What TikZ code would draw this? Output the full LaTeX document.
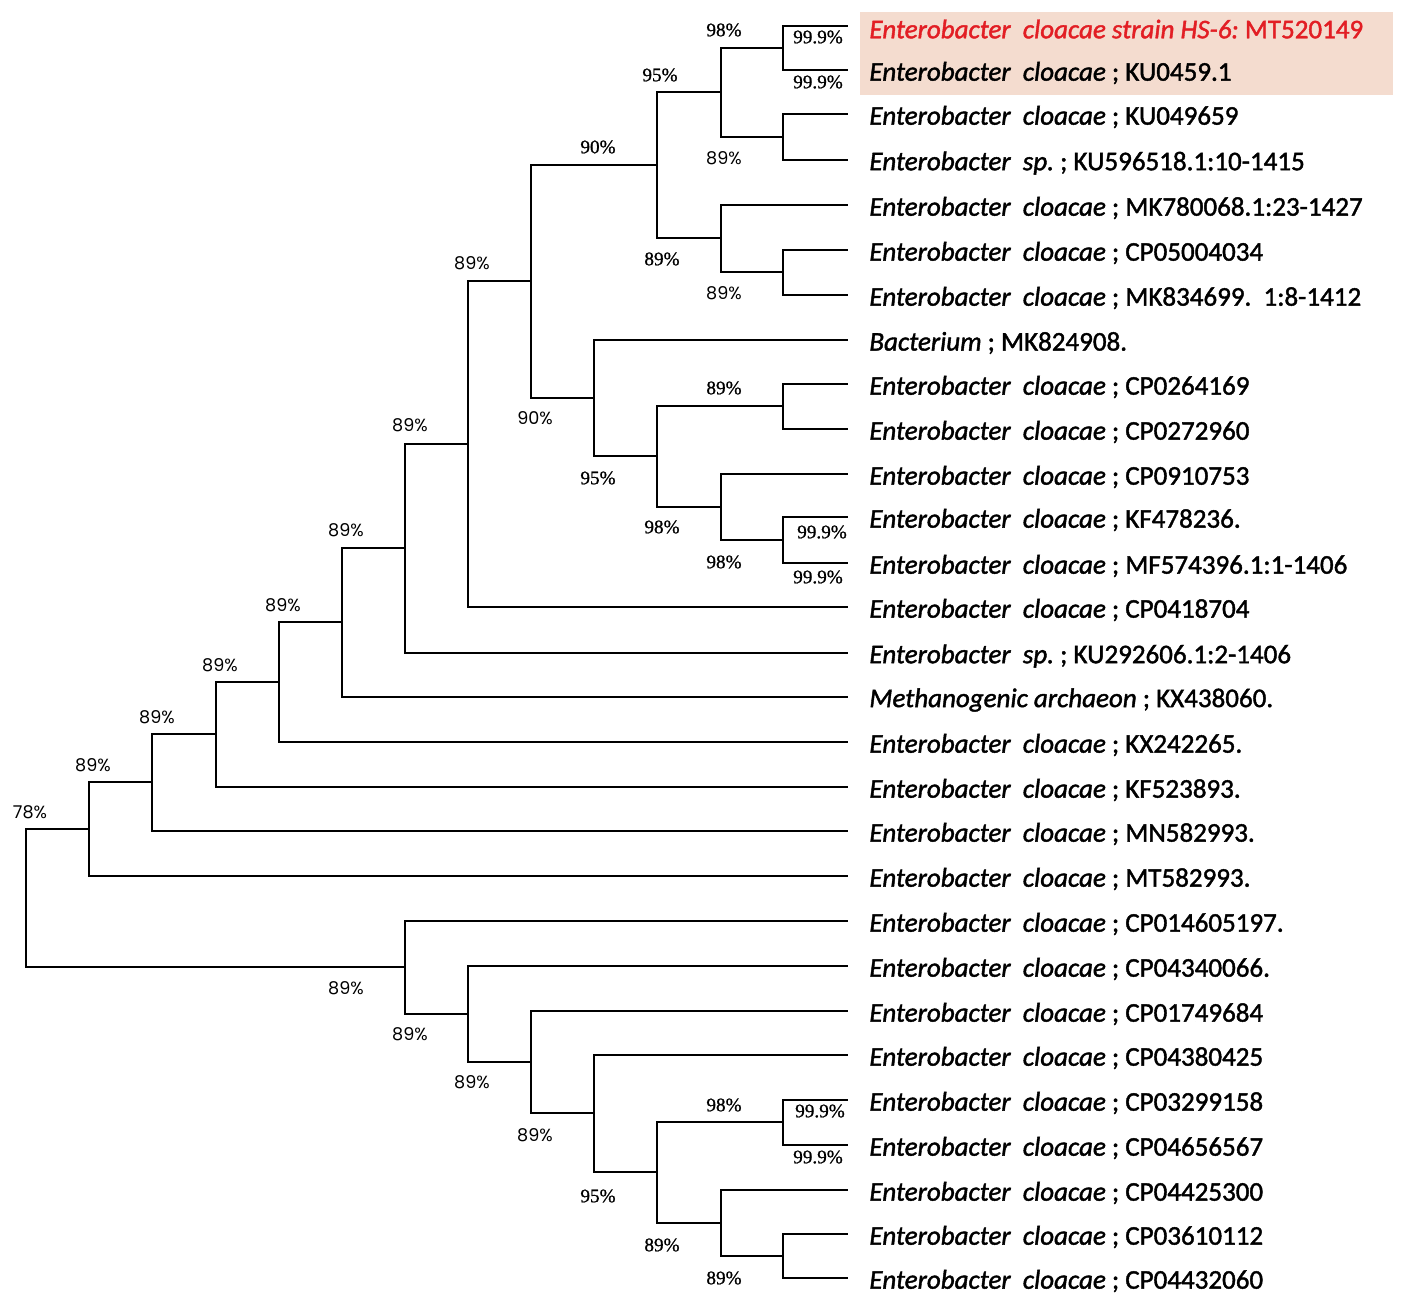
\documentclass[tikz,border=0pt]{standalone}
\usepackage{fontspec}
\usetikzlibrary{positioning}
\newfontfamily\leaffont[FakeBold=1.5]{Carlito}
\newfontfamily\bsserif[FakeBold=1]{Liberation Serif}
\newfontfamily\bssans{Poppins}
\definecolor{hlfill}{RGB}{244,220,207}
\definecolor{hlred}{RGB}{226,30,36}

\begin{document}
\begin{tikzpicture}[x=0.5pt, y=-0.5pt, line width=1.4pt,
			leaf/.style={anchor=west, inner sep=0pt, yshift=-1.5pt, font=\leaffont\fontsize{13.5}{15}\selectfont},
			bsr/.style={inner sep=0pt, font=\bsserif\fontsize{9.6}{11}\selectfont},
			bss/.style={inner sep=0pt, font=\bssans\fontsize{8.8}{10}\selectfont}]
			\useasboundingbox (0,0) rectangle (1418,1303);
			
			%highlighted strain
			\fill[hlfill] (860,12) rectangle (1393,95);
			
			%leaf tips
			\foreach \y [count=\i] in {26,70,114,160,205,250,295,340,384,429,474,517,563,607,653,
				697,742,787,831,876,921,966,1011,1055,1100,1145,1190,1234,1278}
				\coordinate (l\i) at (848,\y);
			
			%inner nodes (upper clade)
			\coordinate (A)  at (783,48);
			\coordinate (C)  at (783,137);
			\coordinate (B)  at (721,92);
			\coordinate (E)  at (783,272);
			\coordinate (D)  at (721,238);
			\coordinate (F)  at (657,165);
			\coordinate (J)  at (783,406);
			\coordinate (L)  at (783,540);
			\coordinate (K)  at (721,507);
			\coordinate (I)  at (657,456);
			\coordinate (H)  at (594,398);
			\coordinate (G)  at (531,281);
			\coordinate (M)  at (468,444);
			\coordinate (N)  at (405,548);
			\coordinate (O)  at (342,622);
			\coordinate (P)  at (279,682);
			\coordinate (Q)  at (216,734);
			\coordinate (R)  at (152,782);
			\coordinate (S)  at (89,829);
			%inner nodes (lower clade)
			\coordinate (Y)  at (783,1122);
			\coordinate (AA) at (783,1256);
			\coordinate (Z)  at (721,1223);
			\coordinate (X)  at (657,1172);
			\coordinate (W)  at (594,1113);
			\coordinate (V)  at (531,1062);
			\coordinate (U)  at (468,1014);
			\coordinate (T)  at (405,967);
			\coordinate (root) at (26,898);
			
			%branches: (parent)/(child)
			\foreach \p/\c in {A/l1, A/l2, C/l3, C/l4, B/A, B/C, E/l6, E/l7, D/l5, D/E,
				F/B, F/D, J/l9, J/l10, L/l12, L/l13, K/l11, K/L, I/J, I/K, H/l8, H/I,
				G/F, G/H, M/G, M/l14, N/M, N/l15, O/N, O/l16, P/O, P/l17, Q/P, Q/l18,
				R/Q, R/l19, S/R, S/l20, Y/l25, Y/l26, AA/l28, AA/l29, Z/l27, Z/AA,
				X/Y, X/Z, W/l24, W/X, V/l23, V/W, U/l22, U/V, T/l21, T/U, root/S, root/T}
				\draw (\p) |- (\c);
			
			%taxa
			\node[leaf, right=10pt of l1, text=hlred] (t1)
				{\itshape Enterobacter\ \ cloacae strain HS-6:\upshape\ MT520149};
			\foreach \i/\sp/\acc in {2/cloacae/KU0459.1, 3/cloacae/KU049659, 4/sp./KU596518.1:10-1415,
				5/cloacae/MK780068.1:23-1427, 6/cloacae/CP05004034, 7/cloacae/MK834699.\ \ 1:8-1412,
				9/cloacae/CP0264169, 10/cloacae/CP0272960, 11/cloacae/CP0910753,
				12/cloacae/KF478236., 13/cloacae/MF574396.1:1-1406, 14/cloacae/CP0418704,
				15/sp./KU292606.1:2-1406, 17/cloacae/KX242265., 18/cloacae/KF523893.,
				19/cloacae/MN582993., 20/cloacae/MT582993., 21/cloacae/CP014605197.,
				22/cloacae/CP04340066., 23/cloacae/CP01749684, 24/cloacae/CP04380425,
				25/cloacae/CP03299158, 26/cloacae/CP04656567, 27/cloacae/CP04425300,
				28/cloacae/CP03610112, 29/cloacae/CP04432060}
				\node[leaf, right=10pt of l\i] (t\i) {\itshape Enterobacter\ \ \sp\upshape\ ; \acc};
			\node[leaf, right=10pt of l8]  (t8)  {\itshape Bacterium\upshape\ ; MK824908.};
			\node[leaf, right=10pt of l16] (t16) {\itshape Methanogenic archaeon\upshape\ ; KX438060.};
			
			%bootstrap values
			\foreach \x/\y/\v in {818/37/99.9, 818/82/99.9, 724/30/98, 660/75/95, 598/147/90,
				662/259/89, 724/388/89, 598/478/95, 662/527/98, 724/562/98, 822/532/99.9,
				818/577/99.9, 724/1105/98, 820/1111/99.9, 818/1157/99.9, 598/1196/95,
				662/1245/89, 724/1278/89}
				\node[bsr] at (\x,\y) {\v\%};
			\foreach \x/\y/\v in {724/158/89, 724/293/89, 472/263/89, 535/418/90, 410/425/89,
				346/530/89, 283/605/89, 220/665/89, 157/717/89, 93/765/89, 30/812/78,
				346/988/89, 410/1034/89, 472/1082/89, 535/1135/89}
				\node[bss] at (\x,\y) {\v\%};
		\end{tikzpicture}
\end{document}
